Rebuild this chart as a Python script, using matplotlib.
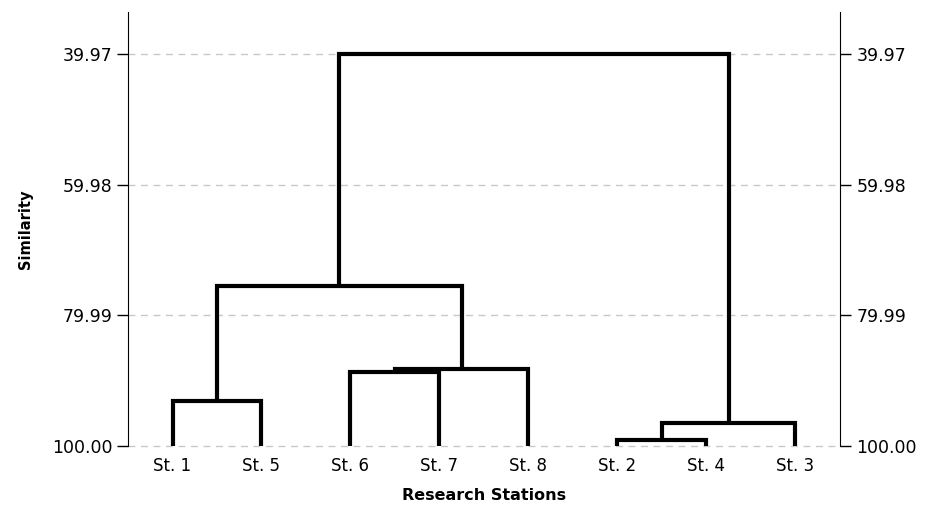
import matplotlib.pyplot as plt

# leaves in display order
stations = ['St. 1', 'St. 5', 'St. 6', 'St. 7', 'St. 8', 'St. 2', 'St. 4', 'St. 3']

# merges (scipy-like): nodes 0-7 are leaves, each merge makes a new node 8, 9, ...
merge_left = [0, 2, 5, 9, 10, 8, 13]
merge_right = [1, 3, 6, 4, 7, 11, 12]
merge_sim = [93.1, 88.7, 99.1, 88.2, 96.5, 75.5, 39.97]

ticks = [39.97, 59.98, 79.99, 100.00]

fig = plt.figure(figsize=(9.25, 5.11), dpi=100)
ax = fig.add_axes([0.1384, 0.1272, 0.908 - 0.1384, 0.9765 - 0.1272])

# node positions: leaves at 0..n-1, similarity 100 at the bottom
xpos = {i: float(i) for i in range(len(stations))}
ypos = {i: 100.0 for i in range(len(stations))}

node = len(stations)
for a, b, s in zip(merge_left, merge_right, merge_sim):
    xs = [xpos[a], xpos[a], xpos[b], xpos[b]]
    ys = [ypos[a], s, s, ypos[b]]
    ax.plot(xs, ys, color='black', lw=3, solid_joinstyle='miter',
            solid_capstyle='butt', zorder=3)
    xpos[node] = (xpos[a] + xpos[b]) / 2
    ypos[node] = s
    node += 1

ax.set_xlim(-0.5, len(stations) - 0.5)
ax.set_ylim(100, 33.54)
ax.set_yticks(ticks)
ax.set_yticklabels(['%.2f' % t for t in ticks])
ax.set_xticks(range(len(stations)))
ax.set_xticklabels(stations)
ax.tick_params(axis='x', length=0, pad=8, labelsize=12)
ax.tick_params(axis='y', length=8, width=1, pad=3, labelsize=12.5)
ax.yaxis.grid(True, color='#c8c8c8', linestyle=(0, (5, 4)), lw=1, clip_on=False)
ax.set_axisbelow(True)

for side in ['top', 'bottom', 'right']:
    ax.spines[side].set_visible(False)

ax.set_ylabel('Similarity', fontweight='bold', fontsize=10.5, labelpad=14)
ax.set_xlabel('Research Stations', fontweight='bold', fontsize=11.5, labelpad=9)

# mirror axis on the right
ax2 = ax.twinx()
ax2.set_ylim(ax.get_ylim())
ax2.set_yticks(ticks)
ax2.set_yticklabels(['%.2f' % t for t in ticks])
ax2.tick_params(axis='y', length=8, width=1, pad=4, labelsize=12.5)
for side in ['top', 'bottom', 'left']:
    ax2.spines[side].set_visible(False)

fig.savefig('out.png', dpi=100)
